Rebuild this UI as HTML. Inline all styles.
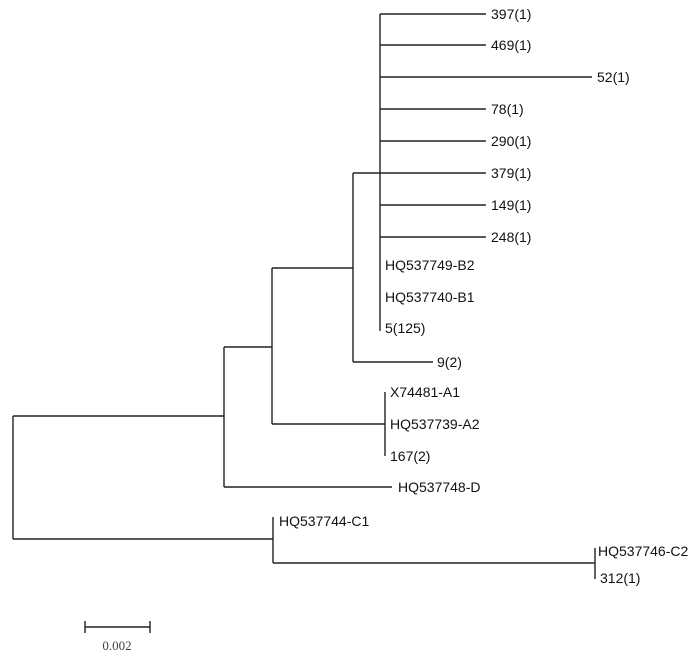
<!DOCTYPE html>
<html><head><style>
html,body{margin:0;padding:0;background:#fff;}
svg{display:block;}
text{font-family:"Liberation Sans",sans-serif;font-size:14px;fill:#111;}
</style></head><body>
<svg width="700" height="656" viewBox="0 0 700 656" xmlns="http://www.w3.org/2000/svg">
<g stroke="#222" stroke-width="1.4" fill="none">
<line x1="380" y1="14" x2="380" y2="331"/>
<line x1="380" y1="14" x2="486" y2="14"/>
<line x1="380" y1="45" x2="486" y2="45"/>
<line x1="380" y1="77" x2="592" y2="77"/>
<line x1="380" y1="109" x2="486" y2="109"/>
<line x1="380" y1="141" x2="486" y2="141"/>
<line x1="380" y1="173" x2="486" y2="173"/>
<line x1="380" y1="205" x2="486" y2="205"/>
<line x1="380" y1="237" x2="486" y2="237"/>
<line x1="353" y1="173" x2="353" y2="362"/>
<line x1="353" y1="173" x2="380" y2="173"/>
<line x1="353" y1="362" x2="433" y2="362"/>
<line x1="272" y1="268" x2="272" y2="424"/>
<line x1="272" y1="268" x2="353" y2="268"/>
<line x1="272" y1="424" x2="385" y2="424"/>
<line x1="385" y1="392" x2="385" y2="456"/>
<line x1="224" y1="347" x2="224" y2="487"/>
<line x1="224" y1="347" x2="272" y2="347"/>
<line x1="224" y1="487" x2="392" y2="487"/>
<line x1="13" y1="416" x2="13" y2="539"/>
<line x1="13" y1="416" x2="224" y2="416"/>
<line x1="13" y1="539" x2="273" y2="539"/>
<line x1="273" y1="517" x2="273" y2="563"/>
<line x1="273" y1="563" x2="595" y2="563"/>
<line x1="595" y1="548" x2="595" y2="579"/>
<line x1="85" y1="627" x2="150" y2="627"/>
<line x1="85" y1="621" x2="85" y2="633"/>
<line x1="150" y1="621" x2="150" y2="633"/>
</g>
<text x="491" y="19">397(1)</text>
<text x="491" y="50">469(1)</text>
<text x="597" y="82">52(1)</text>
<text x="491" y="114">78(1)</text>
<text x="491" y="146">290(1)</text>
<text x="491" y="178">379(1)</text>
<text x="491" y="210">149(1)</text>
<text x="491" y="242">248(1)</text>
<text x="385" y="270">HQ537749-B2</text>
<text x="385" y="302">HQ537740-B1</text>
<text x="385" y="333">5(125)</text>
<text x="437" y="367">9(2)</text>
<text x="390" y="397">X74481-A1</text>
<text x="390" y="429">HQ537739-A2</text>
<text x="390" y="461">167(2)</text>
<text x="398" y="492">HQ537748-D</text>
<text x="279" y="526">HQ537744-C1</text>
<text x="598" y="556">HQ537746-C2</text>
<text x="600" y="583">312(1)</text>
<text x="117" y="650" text-anchor="middle" style="font-family:'Liberation Serif',serif;font-size:13px;fill:#444">0.002</text>
</svg>
</body></html>
